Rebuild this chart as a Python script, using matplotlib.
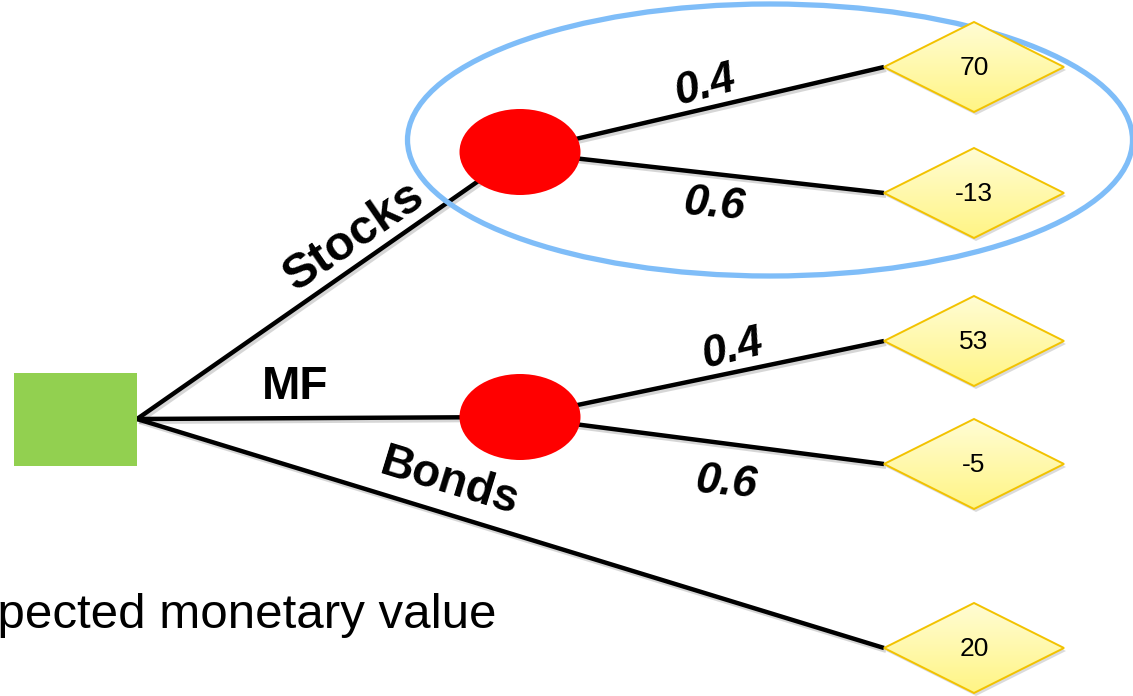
import numpy as np
import matplotlib
matplotlib.use("Agg")
import matplotlib.pyplot as plt
from matplotlib.patches import Ellipse, Polygon, Rectangle
import matplotlib.patheffects as pe

plt.rcParams["font.family"] = ["Liberation Sans", "DejaVu Sans"]

# tree layout (pixel space, y grows downward)
ROOT = (137, 419)
CHANCE_NODES = [(520, 152), (520, 417)]
PAYOFF_Y = [67, 193, 341, 464, 648]
PAYOFFS = [70, -13, 53, -5, 20]
PAYOFF_X = 884           # left tip of each payoff diamond
BRANCHES = ["Stocks", "MF", "Bonds"]
PROBS = [0.4, 0.6]

W, H = 1133, 696
fig = plt.figure(figsize=(W / 100, H / 100), dpi=100)
ax = fig.add_axes([0, 0, 1, 1])
ax.set_xlim(0, W)
ax.set_ylim(H, 0)
ax.axis("off")

shadow = [pe.SimpleLineShadow(offset=(1.5, -2), shadow_color="0.55", alpha=0.35), pe.Normal()]
line_kw = dict(color="black", lw=3.2, solid_capstyle="butt", zorder=2, path_effects=shadow)

# decision branches
ax.plot([ROOT[0], CHANCE_NODES[0][0]], [ROOT[1], CHANCE_NODES[0][1]], **line_kw)
ax.plot([ROOT[0], CHANCE_NODES[1][0]], [ROOT[1], CHANCE_NODES[1][1]], **line_kw)
ax.plot([ROOT[0], PAYOFF_X], [ROOT[1], PAYOFF_Y[4]], **line_kw)

# chance branches
for i, (cx, cy) in enumerate(CHANCE_NODES):
    for j in range(2):
        ax.plot([cx, PAYOFF_X], [cy, PAYOFF_Y[2 * i + j]], **line_kw)

# decision node
ax.add_patch(Rectangle((14, 373), 123, 93, facecolor="#92D050", edgecolor="none", zorder=3))

# chance nodes
for cx, cy in CHANCE_NODES:
    ax.add_patch(Ellipse((cx, cy), 121, 86, facecolor="#FF0000", edgecolor="none", zorder=3))

# highlight around the stocks subtree
ax.add_patch(Ellipse((770, 140), 725, 272, facecolor="none", edgecolor="#7FBDF8", lw=3.8, zorder=4))

# payoff diamonds with a vertical yellow gradient
grad = np.linspace(0, 1, 64).reshape(-1, 1)
top = np.array([1.0, 0.99, 0.83])
bot = np.array([1.0, 0.96, 0.52])
grad_img = top + (bot - top) * grad[..., None]
for y, v in zip(PAYOFF_Y, PAYOFFS):
    xs = [PAYOFF_X, PAYOFF_X + 90, PAYOFF_X + 180, PAYOFF_X + 90]
    ys = [y, y - 45, y, y + 45]
    pts = list(zip(xs, ys))
    sh = Polygon([(px + 2, py + 3) for px, py in pts], closed=True, facecolor="0.6",
                 edgecolor="none", alpha=0.35, zorder=4.5)
    ax.add_patch(sh)
    poly = Polygon(pts, closed=True, facecolor="none", edgecolor="#F2C200", lw=1.4, zorder=6)
    ax.add_patch(poly)
    im = ax.imshow(grad_img, extent=(PAYOFF_X, PAYOFF_X + 180, y + 45, y - 45),
                   aspect="auto", zorder=5)
    im.set_clip_path(poly)
    ax.text(PAYOFF_X + 90, y + 1, str(v), ha="center", va="center", fontsize=19, zorder=7)

# branch labels
lbl = dict(fontsize=33, fontweight="bold", ha="center", va="center", zorder=7,
           rotation_mode="anchor")
ax.text(354, 237, BRANCHES[0], rotation=34.5, fontsize=35, **{k: v for k, v in lbl.items() if k != "fontsize"})
ax.text(295, 387, BRANCHES[1], **lbl)
ax.text(450, 482, BRANCHES[2], rotation=-17, **lbl)

prob = dict(fontsize=32, fontweight="bold", fontstyle="italic", ha="center", va="center",
            zorder=7, rotation_mode="anchor")
ax.text(705, 86, f"{PROBS[0]}", rotation=15, **prob)
ax.text(714, 205, f"{PROBS[1]}", rotation=-5, **prob)
ax.text(732, 349, f"{PROBS[0]}", rotation=14, **prob)
ax.text(726, 483, f"{PROBS[1]}", rotation=-5, **prob)

ax.text(497, 628, "Expected monetary value", ha="right", va="baseline", fontsize=35.5, zorder=7)

fig.savefig("out.png", dpi=100)
